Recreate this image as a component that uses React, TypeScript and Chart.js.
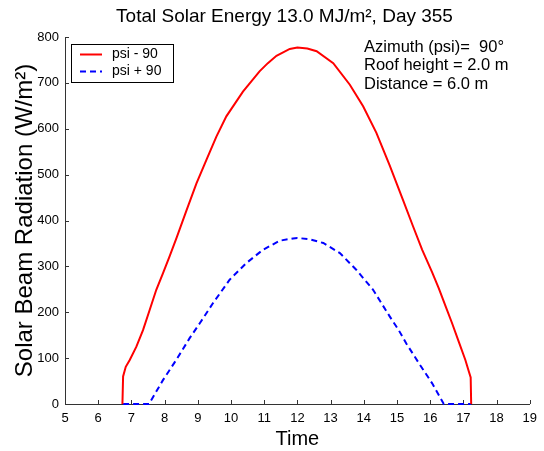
import React, { useEffect, useRef } from "react";
import { Chart, registerables } from "chart.js";
Chart.register(...registerables);

const titleText = "Total Solar Energy 13.0 MJ/m², Day 355";
const xTitle = "Time";
const yTitle = "Solar Beam Radiation (W/m²)";
const infoLines = ["Azimuth (psi)=  90°", "Roof height = 2.0 m", "Distance = 6.0 m"];
const seriesLabels = ["psi - 90", "psi + 90"];

const redHours = [6.73, 6.75, 6.83, 6.95, 7.15, 7.35, 7.55, 7.75, 7.95, 8.15, 8.36, 8.66, 8.96, 9.26, 9.56, 9.86, 10.36, 10.86, 11.11, 11.37, 11.77, 12.0, 12.3, 12.58, 13.08, 13.58, 13.98, 14.38, 14.78, 15.18, 15.48, 15.76, 16.06, 16.26, 16.46, 16.66, 16.86, 17.06, 17.16, 17.22, 17.235];
const redValues = [0, 60, 81, 96, 125, 161, 205, 249, 285, 322, 362, 422, 481, 532, 583, 627, 681, 725, 743, 759, 774, 777, 775, 769, 743, 696, 649, 591, 520, 445, 388, 336, 287, 252, 214, 176, 136, 96, 72, 58, 0];

const blueHours = [6.75, 7.53, 7.95, 8.35, 8.75, 9.06, 9.46, 9.96, 10.46, 10.96, 11.47, 11.87, 12.0, 12.38, 12.78, 13.28, 13.78, 14.28, 14.78, 15.06, 15.28, 15.66, 16.06, 16.41, 17.23];
const blueValues = [0, 0, 52, 96, 143, 176, 220, 271, 307, 336, 356, 361, 362, 359, 351, 329, 292, 249, 191, 160, 132, 89, 45, 0, 0];

const xMin = 5, xMax = 19, yMin = 0, yMax = 800;

const FONT = "'Liberation Sans', Arial, sans-serif";
const AXIS = "#333333";

const inwardTicks = {
  id: "inwardTicks",
  beforeDatasetsDraw(chart: any) {
    const { ctx, chartArea } = chart;
    const x = chart.scales.x, y = chart.scales.y;
    ctx.save();
    ctx.strokeStyle = AXIS;
    ctx.lineWidth = 1;
    x.ticks.forEach((t: any) => {
      const px = Math.round(x.getPixelForValue(t.value)) + 0.5;
      ctx.beginPath();
      ctx.moveTo(px, chartArea.bottom);
      ctx.lineTo(px, chartArea.bottom - 4);
      ctx.stroke();
    });
    y.ticks.forEach((t: any) => {
      const py = Math.round(y.getPixelForValue(t.value)) + 0.5;
      ctx.beginPath();
      ctx.moveTo(chartArea.left, py);
      ctx.lineTo(chartArea.left + 4, py);
      ctx.stroke();
    });
    ctx.restore();
  },
};

const overlay = {
  id: "overlay",
  afterDraw(chart: any) {
    const { ctx, chartArea } = chart;
    ctx.save();
    ctx.fillStyle = "#000";
    ctx.font = `19px ${FONT}`;
    ctx.textAlign = "center";
    ctx.textBaseline = "middle";
    ctx.fillText(titleText, 284.5, 17);
    ctx.font = `16.5px ${FONT}`;
    ctx.textAlign = "left";
    infoLines.forEach((s, i) => ctx.fillText(s, 364, 47 + i * 18.7));
    const lx = chartArea.left + 6, ly = chartArea.top + 7, lw = 102, lh = 38;
    ctx.fillStyle = "#fff";
    ctx.fillRect(lx, ly, lw, lh);
    ctx.strokeStyle = "#000";
    ctx.lineWidth = 1;
    ctx.strokeRect(lx + 0.5, ly + 0.5, lw, lh);
    chart.data.datasets.forEach((ds: any, i: number) => {
      const yy = ly + 10.5 + i * 17;
      ctx.strokeStyle = ds.borderColor;
      ctx.lineWidth = ds.borderWidth;
      ctx.setLineDash(ds.borderDash || []);
      ctx.beginPath();
      ctx.moveTo(lx + 9, yy);
      ctx.lineTo(lx + 31, yy);
      ctx.stroke();
      ctx.setLineDash([]);
      ctx.fillStyle = "#000";
      ctx.font = `14px ${FONT}`;
      ctx.fillText(ds.label, lx + 41, yy);
    });
    ctx.restore();
  },
};

export default function App() {
  const ref = useRef<HTMLCanvasElement>(null);
  useEffect(() => {
    if (!ref.current) return;
    Chart.defaults.font.family = FONT;
    const chart = new Chart(ref.current, {
      type: "line",
      data: {
        datasets: [
          {
            label: seriesLabels[0],
            data: redHours.map((h, i) => ({ x: h, y: redValues[i] })),
            borderColor: "#ff0000",
            borderWidth: 2,
            pointRadius: 0,
            tension: 0,
            fill: false,
            clip: 3,
          },
          {
            label: seriesLabels[1],
            data: blueHours.map((h, i) => ({ x: h, y: blueValues[i] })),
            borderColor: "#0000ff",
            borderWidth: 2,
            borderDash: [6, 4],
            pointRadius: 0,
            tension: 0,
            fill: false,
            clip: 3,
          },
        ],
      },
      options: {
        animation: false,
        responsive: false,
        layout: { padding: { top: 37, right: 14, left: 0, bottom: 0 } },
        plugins: { legend: { display: false }, title: { display: false }, tooltip: { enabled: false } },
        scales: {
          x: {
            type: "linear",
            min: xMin,
            max: xMax,
            ticks: { stepSize: 1, color: "#000", font: { size: 13 }, padding: 7, maxRotation: 0 },
            grid: { display: false, drawTicks: false },
            border: { display: true, color: AXIS, width: 1 },
            title: { display: true, text: xTitle, color: "#000", font: { size: 20 }, padding: { top: 2, bottom: 0 } },
            afterFit: (s: any) => { s.height = 47; },
          },
          y: {
            type: "linear",
            min: yMin,
            max: yMax,
            ticks: { stepSize: 100, color: "#000", font: { size: 13 }, padding: 6 },
            grid: { display: false, drawTicks: false },
            border: { display: true, color: AXIS, width: 1 },
            title: { display: true, text: yTitle, color: "#000", font: { size: 24 }, padding: { top: 11, bottom: 0 } },
            afterFit: (s: any) => { s.width = 65; },
          },
        },
      },
      plugins: [inwardTicks, overlay],
    });
    return () => chart.destroy();
  }, []);
  return (
    <div style={{ position: "absolute", left: 0, top: 0, width: 544, height: 451, background: "#fff" }}>
      <canvas ref={ref} width={544} height={451} style={{ width: 544, height: 451, display: "block" }} />
    </div>
  );
}
